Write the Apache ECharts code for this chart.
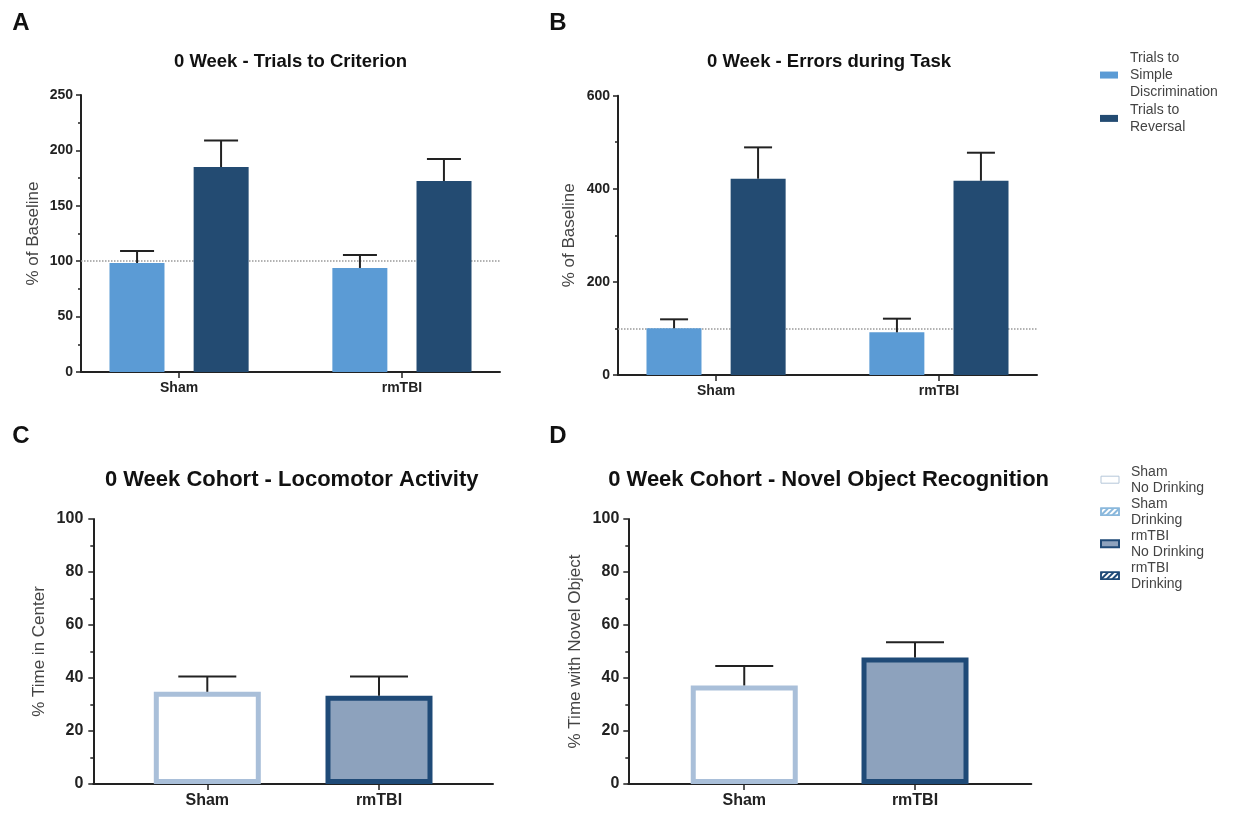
<!DOCTYPE html>
<html><head><meta charset="utf-8">
<script src="https://cdn.jsdelivr.net/npm/echarts@6/dist/echarts.min.js"></script>
<style>html,body{margin:0;padding:0;background:#fff}#c{width:1233px;height:815px}</style>
</head><body><div id="c"></div>
<script>
// ---- data ----
const categories = ['Sham', 'rmTBI'];
const legendAB = ['Trials to\nSimple\nDiscrimination', 'Trials to\nReversal'];
const legendCD = ['Sham\nNo Drinking', 'Sham\nDrinking', 'rmTBI\nNo Drinking', 'rmTBI\nDrinking'];
const aSimple = [98.4, 93.9];
const aSimpleErr = [10.8, 11.7];
const aReversal = [185.0, 172.4];
const aReversalErr = [23.9, 19.8];
const bSimple = [100.3, 91.7];
const bSimpleErr = [19.3, 29.3];
const bReversal = [421.7, 417.4];
const bReversalErr = [67.3, 60.1];
const cTime = [34.8, 33.3];
const cTimeErr = [5.8, 7.3];
const dTime = [37.2, 47.7];
const dTimeErr = [7.3, 5.8];
const baseline = 100;
const yTicksA = [0, 50, 100, 150, 200, 250];
const yTicksB = [0, 200, 400, 600];
const yTicksCD = [0, 20, 40, 60, 80, 100];
const titles = ['0 Week - Trials to Criterion', '0 Week - Errors during Task',
  '0 Week Cohort - Locomotor Activity', '0 Week Cohort - Novel Object Recognition'];
const yNames = ['% of Baseline', '% of Baseline', '% Time in Center', '% Time with Novel Object'];
const panelLetters = ['A', 'B', 'C', 'D'];

// ---- styles ----
const FONT = 'Arial, "Liberation Sans", Helvetica, sans-serif';
const INK = '#222';
const LIGHT = '#5b9bd5';
const DARK = '#234b72';
const SHAM_BORDER = '#a9bfd9';
const RM_FILL = '#8da2bd';
const RM_BORDER = '#1f4a77';

const chart = echarts.init(document.getElementById('c'), null, {renderer: 'canvas'});

function xAxisOpt(gi, min, max, fs) {
  return {
    gridIndex: gi, type: 'value', min: min, max: max,
    splitLine: {show: false},
    axisLine: {onZero: false, lineStyle: {color: INK, width: 2}},
    axisTick: {customValues: [0, 1], length: 6, lineStyle: {color: INK, width: 1.5}},
    axisLabel: {customValues: [0, 1], formatter: v => categories[Math.round(v)] || '',
      fontSize: fs, fontWeight: 'bold', color: INK, margin: 9, fontFamily: FONT}
  };
}
function yAxisOpt(gi, ticks, name, nameGap, fs, margin) {
  return {
    gridIndex: gi, type: 'value', min: ticks[0], max: ticks[ticks.length - 1],
    interval: ticks[1] - ticks[0],
    name: name, nameLocation: 'middle', nameGap: nameGap,
    nameTextStyle: {fontSize: 17, color: '#444', fontFamily: FONT},
    splitLine: {show: false},
    axisLine: {show: true, onZero: false, lineStyle: {color: INK, width: 2}},
    axisTick: {show: true, length: 5, lineStyle: {color: INK, width: 1.5}},
    minorTick: {show: true, splitNumber: 2, length: 3, lineStyle: {color: INK, width: 1.5}},
    axisLabel: {fontSize: fs, fontWeight: 'bold', color: INK, margin: margin, fontFamily: FONT}
  };
}
function errRender(offsetPx, capW) {
  return function (params, api) {
    const x = api.value(0), m = api.value(1), e = api.value(2), s = api.value(3);
    const p0 = api.coord([x, m]);
    const p1 = api.coord([x, m + e]);
    const cx = p0[0] + s * offsetPx;
    const st = {stroke: INK, lineWidth: 2};
    return {type: 'group', children: [
      {type: 'line', shape: {x1: cx, y1: p0[1], x2: cx, y2: p1[1]}, style: st},
      {type: 'line', shape: {x1: cx - capW / 2, y1: p1[1], x2: cx + capW / 2, y2: p1[1]}, style: st}
    ]};
  };
}
function baselineSeries(gi) {
  return {type: 'line', xAxisIndex: gi, yAxisIndex: gi, data: [], z: 1, silent: true,
    markLine: {symbol: 'none', silent: true, z: 1, label: {show: false},
      lineStyle: {type: 'dotted', color: '#999', width: 1.5}, data: [{yAxis: baseline}]}};
}
function pairBars(gi, simple, reversal) {
  return [
    {type: 'bar', name: legendAB[0], xAxisIndex: gi, yAxisIndex: gi, z: 3,
      data: categories.map((c, i) => [i, simple[i]]), barWidth: 55, barGap: '53%',
      itemStyle: {color: LIGHT}},
    {type: 'bar', name: legendAB[1], xAxisIndex: gi, yAxisIndex: gi, z: 3,
      data: categories.map((c, i) => [i, reversal[i]]), barWidth: 55, barGap: '53%',
      itemStyle: {color: DARK}}
  ];
}
function pairErr(gi, simple, simpleErr, reversal, reversalErr, capW) {
  const rows = [];
  categories.forEach((c, i) => {
    rows.push([i, simple[i], simpleErr[i], -1]);
    rows.push([i, reversal[i], reversalErr[i], 1]);
  });
  return {type: 'custom', xAxisIndex: gi, yAxisIndex: gi, z: 5, silent: true,
    encode: {x: 0, y: 1}, data: rows, renderItem: errRender(42, capW)};
}
function cohortBars(gi, vals, errs, withDummies) {
  const s = [
    {type: 'bar', name: legendCD[0], xAxisIndex: gi, yAxisIndex: gi, z: 3,
      data: [[0, vals[0]]], barWidth: 107, barGap: '-100%',
      itemStyle: {color: '#ffffff', borderColor: SHAM_BORDER, borderWidth: 5}},
    {type: 'bar', name: legendCD[2], xAxisIndex: gi, yAxisIndex: gi, z: 3,
      data: [[1, vals[1]]], barWidth: 107, barGap: '-100%',
      itemStyle: {color: RM_FILL, borderColor: RM_BORDER, borderWidth: 5}},
    {type: 'custom', xAxisIndex: gi, yAxisIndex: gi, z: 5, silent: true,
      encode: {x: 0, y: 1}, data: categories.map((c, i) => [i, vals[i], errs[i], 0]),
      renderItem: errRender(0, 58)}
  ];
  if (withDummies) {
    s.push({type: 'bar', name: legendCD[1], xAxisIndex: gi, yAxisIndex: gi, data: [],
      barWidth: 107, barGap: '-100%',
      itemStyle: {color: '#ffffff', borderColor: '#8ab8dc', borderWidth: 1.5,
        decal: {symbol: 'rect', color: '#8ab8dc', dashArrayX: [1, 0], dashArrayY: [2, 2], rotation: -Math.PI / 4}}});
    s.push({type: 'bar', name: legendCD[3], xAxisIndex: gi, yAxisIndex: gi, data: [],
      barWidth: 107, barGap: '-100%',
      itemStyle: {color: '#ffffff', borderColor: RM_BORDER, borderWidth: 1.5,
        decal: {symbol: 'rect', color: RM_BORDER, dashArrayX: [1, 0], dashArrayY: [2, 2], rotation: -Math.PI / 4}}});
  }
  return s;
}

const textGraphic = (text, x, y, size, bold) => ({
  type: 'text', x: x, y: y, silent: true,
  style: {text: text, textAlign: 'center', textVerticalAlign: 'middle',
    font: (bold ? 'bold ' : '') + size + 'px ' + FONT, fill: '#111'}
});

const option = {
  backgroundColor: '#ffffff',
  animation: false,
  textStyle: {fontFamily: FONT},
  grid: [
    {left: 81, top: 95, width: 419, height: 277},
    {left: 618, top: 95.7, width: 419, height: 279.3},
    {left: 93.3, top: 519, width: 399.7, height: 265},
    {left: 628.3, top: 519, width: 403, height: 265}
  ],
  xAxis: [
    xAxisOpt(0, -0.44, 1.44, 14),
    xAxisOpt(1, -0.44, 1.44, 14),
    xAxisOpt(2, -0.664, 1.664, 16),
    xAxisOpt(3, -0.679, 1.681, 16)
  ],
  yAxis: [
    yAxisOpt(0, yTicksA, yNames[0], 39, 14, 8),
    yAxisOpt(1, yTicksB, yNames[1], 40, 14, 8),
    yAxisOpt(2, yTicksCD, yNames[2], 45, 16, 10),
    yAxisOpt(3, yTicksCD, yNames[3], 44, 16, 9)
  ],
  legend: [
    {orient: 'vertical', left: 1100, top: 50, padding: 0, icon: 'rect', itemWidth: 18, itemHeight: 7,
      itemGap: 1.6, selectedMode: false, data: legendAB,
      textStyle: {fontSize: 14, lineHeight: 16.7, color: '#444', fontFamily: FONT, padding: [0, 0, 0, 7]}},
    {orient: 'vertical', left: 1100, top: 463.7, padding: 0, icon: 'rect', itemWidth: 18, itemHeight: 7,
      itemGap: 0, selectedMode: false,
      data: [
        {name: legendCD[0], itemStyle: {borderWidth: 1, borderColor: '#b5c7d9'}},
        {name: legendCD[1], itemStyle: {borderWidth: 1.5}},
        {name: legendCD[2], itemStyle: {borderWidth: 2}},
        {name: legendCD[3], itemStyle: {borderWidth: 1.5}}
      ],
      textStyle: {fontSize: 14, lineHeight: 16, color: '#444', fontFamily: FONT, padding: [0, 0, 0, 7]}}
  ],
  graphic: [
    textGraphic(panelLetters[0], 21, 23, 24, true),
    textGraphic(panelLetters[1], 558, 23, 24, true),
    textGraphic(panelLetters[2], 21, 436, 24, true),
    textGraphic(panelLetters[3], 558, 436, 24, true),
    textGraphic(titles[0], 290.5, 62, 18.5, true),
    textGraphic(titles[1], 829, 62, 18.5, true),
    textGraphic(titles[2], 291.7, 480, 22, true),
    textGraphic(titles[3], 828.6, 480, 22, true)
  ],
  series: [].concat(
    baselineSeries(0), pairBars(0, aSimple, aReversal), pairErr(0, aSimple, aSimpleErr, aReversal, aReversalErr, 34),
    baselineSeries(1), pairBars(1, bSimple, bReversal), pairErr(1, bSimple, bSimpleErr, bReversal, bReversalErr, 28),
    cohortBars(2, cTime, cTimeErr, false),
    cohortBars(3, dTime, dTimeErr, true)
  )
};
chart.setOption(option);
</script></body></html>
